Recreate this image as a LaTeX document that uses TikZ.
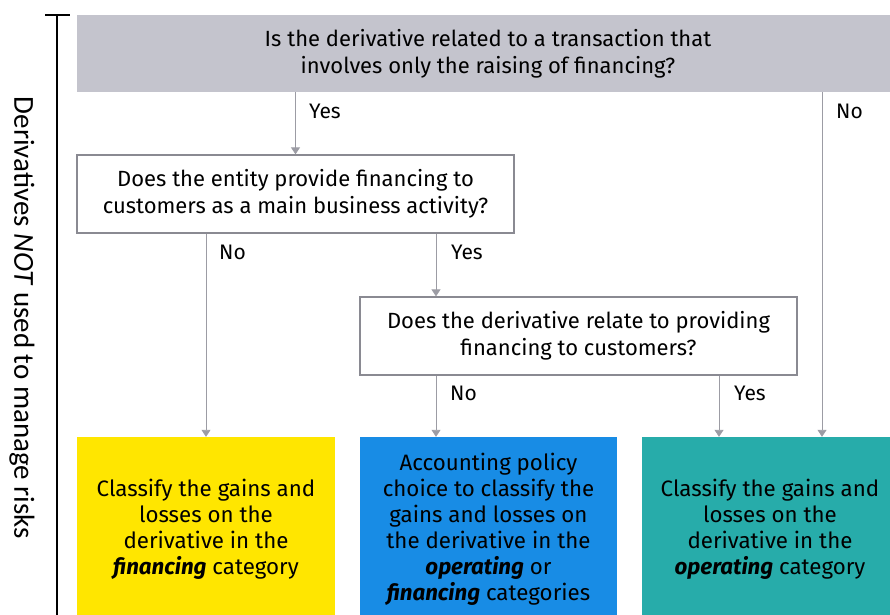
\documentclass[tikz,border=0pt]{standalone}
\usepackage{fontspec}
\setmainfont{Fira Sans}
\newfontfamily\sidefont{Carlito}
\usetikzlibrary{arrows.meta}
\definecolor{eygray}{HTML}{C4C4CD}
\definecolor{eyyellow}{HTML}{FFE600}
\definecolor{eyblue}{HTML}{188CE5}
\definecolor{eyteal}{HTML}{27ACAA}
\definecolor{linegray}{HTML}{9C9CA4}
\definecolor{bordergray}{HTML}{8A8A92}
\tikzset{
  qtext/.style={font=\fontsize{22}{27}\selectfont, align=center, text=black},
  question/.style={qtext, draw=bordergray, line width=1.3pt, fill=white},
  outcome/.style={qtext, font=\fontsize{22.3}{26}\selectfont, inner sep=0pt},
  arr/.style={draw=linegray, line width=0.9pt, -{Triangle[width=9pt,length=7pt]}},
  lbl/.style={font=\fontsize{21}{24}\selectfont, anchor=west, text=black, inner sep=0pt},
}
\begin{document}
\begin{tikzpicture}[x=1pt,y=-1pt]
\useasboundingbox (0,0) rectangle (890,614);
% bracket
\draw[line width=1.8pt] (45,15) -- (70,15);
\draw[line width=1.8pt] (57,15) -- (57,620);
\node[rotate=-90, font=\sidefont\fontsize{29}{32}\selectfont] (side) at (22,318) {Derivatives \textit{NOT} used to manage risks};
% boxes
\node[qtext, fill=eygray, minimum width=822pt, minimum height=77pt, inner sep=0pt] (q1) at (488,53.5)
  {Is the derivative related to a transaction that\\involves only the raising of financing?};
\node[question, minimum width=437pt, minimum height=78pt, inner sep=0pt] (q2) at (295.5,194)
  {Does the entity provide financing to\\customers as a main business activity?};
\node[question, minimum width=437pt, minimum height=78pt, inner sep=0pt] (q3) at (578.5,336)
  {Does the derivative relate to providing\\financing to customers?};
\node[outcome, fill=eyyellow, minimum width=258pt, minimum height=184pt] (fin) at (206,529)
  {Classify the gains and\\losses on the\\derivative in the\\\textbf{\textit{financing}} category};
\node[outcome, fill=eyblue, minimum width=257pt, minimum height=184pt] (pol) at (488.5,529)
  {Accounting policy\\choice to classify the\\gains and losses on\\the derivative in the\\\textbf{\textit{operating}} or\\\textbf{\textit{financing}} categories};
\node[outcome, fill=eyteal, minimum width=256pt, minimum height=184pt] (ope) at (770,529)
  {Classify the gains and\\losses on the\\derivative in the\\\textbf{\textit{operating}} category};
% connectors
\draw[arr] (q1.south -| q2.north) -- (q2.north);
\draw[arr] (q1.south -| 822,0) -- (ope.north -| 822,0);
\draw[arr] (q2.south -| fin.north) -- (fin.north);
\draw[arr] (q2.south -| 436,0) -- (q3.north -| 436,0);
\draw[arr] (q3.south -| 436,0) -- (pol.north -| 436,0);
\draw[arr] (q3.south -| 719,0) -- (ope.north -| 719,0);
% labels
\node[lbl] (l1) at (309,111) {Yes};
\node[lbl] (l2) at (836,111) {No};
\node[lbl] (l3) at (219,252) {No};
\node[lbl] (l4) at (451,252) {Yes};
\node[lbl] (l5) at (450,393) {No};
\node[lbl] (l6) at (734,393) {Yes};
\end{tikzpicture}
\end{document}
